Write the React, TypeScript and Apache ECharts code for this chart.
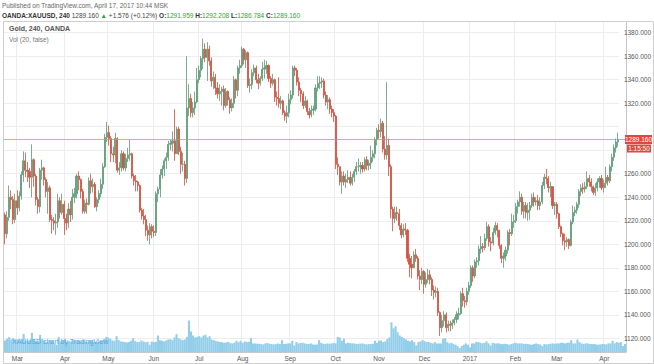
import React, { useEffect, useRef } from "react";
import * as echarts from "echarts";

const FONT = "'Liberation Sans', Arial, sans-serif";

// first trading day of the data (weekdays only)
const startDate = "2016-02-22";
const dayCount = 301;
const firstOpen = 1225;

const closeValues = [
  1209,1223,1240,1238,1221, 1237,1231,1241,1259,1271, 1263,1262,1257,1272,1258, 1238,1232,1263,1265,1255,
  1245,1248,1221,1220,1218, 1219,1237,1227,1234,1222, 1218,1230,1225,1240,1243, 1258,1255,1245,1228,1235,
  1234,1254,1249,1251,1232, 1238,1243,1251,1266,1291, 1295,1290,1277,1276,1290, 1263,1265,1277,1265,1273,
  1276,1277,1258,1254,1253, 1250,1229,1224,1221,1212, 1208,1215,1211,1210,1243, 1247,1259,1264,1271,1274,
  1285,1286,1288,1277,1298, 1279,1268,1268,1256,1316, 1324,1312,1316,1321,1340, 1348,1358,1366,1359,1366,
  1356,1339,1342,1333,1328, 1330,1332,1318,1330,1323, 1316,1320,1340,1331,1350, 1352,1366,1357,1363,1335,
  1336,1346,1350,1340,1337, 1341,1349,1350,1352,1341, 1337,1340,1325,1324,1320, 1322,1312,1309,1312,1323,
  1327,1350,1348,1338,1331, 1328,1318,1322,1313,1310, 1314,1315,1333,1337,1338, 1339,1327,1321,1323,1315,
  1312,1309,1268,1266,1253, 1258,1253,1255,1257,1252, 1257,1262,1266,1266,1267, 1264,1272,1267,1269,1274,
  1277,1289,1297,1296,1303, 1281,1276,1284,1266,1230, 1222,1227,1226,1216,1208, 1213,1212,1188,1183,1180,
  1191,1188,1173,1170,1177, 1166,1170,1174,1170,1161, 1159,1160,1142,1129,1135, 1140,1129,1132,1131,1133,
  1136,1140,1141,1158,1152, 1151,1160,1165,1180,1173, 1185,1186,1196,1198,1197, 1205,1215,1202,1201,1210,
  1216,1212,1199,1188,1190, 1195,1210,1209,1219,1220, 1232,1236,1240,1228,1233, 1227,1229,1233,1240,1236,
  1237,1233,1236,1250,1257, 1256,1248,1249,1233,1234, 1226,1215,1209,1203,1202, 1204,1199,1219,1227,1229,
  1234,1245,1248,1247,1249, 1256,1253,1249,1244,1248, 1253,1256,1248,1252,1257, 1254,1266,1274,1282,1287,
  1289.16,
];

const highValues = [
  1227,1228,1250,1246,1241, 1243,1246,1245,1262,1279, 1278,1270,1265,1285,1273, 1260,1240,1265,1272,1266,
  1257,1253,1250,1225,1223, 1226,1243,1240,1243,1237, 1226,1235,1237,1247,1248, 1260,1262,1256,1247,1238,
  1239,1257,1260,1256,1253, 1240,1246,1256,1269,1294, 1304,1301,1292,1283,1295, 1291,1270,1280,1279,1277,
  1282,1289,1278,1260,1259, 1254,1251,1231,1230,1225, 1216,1218,1217,1216,1245, 1249,1264,1267,1273,1278,
  1288,1289,1296,1315,1300, 1300,1283,1278,1271,1360, 1336,1328,1321,1330,1350, 1352,1360,1375,1371,1372,
  1369,1359,1347,1345,1338, 1336,1334,1335,1333,1331, 1325,1324,1343,1341,1352, 1357,1368,1367,1365,1364,
  1341,1349,1353,1352,1345, 1343,1355,1357,1356,1353, 1343,1345,1341,1330,1342, 1326,1323,1314,1318,1328,
  1331,1352,1352,1350,1342, 1333,1330,1326,1323,1316, 1318,1318,1336,1343,1343, 1342,1341,1330,1327,1325,
  1318,1315,1310,1274,1266, 1262,1262,1260,1263,1262, 1260,1264,1270,1273,1270, 1270,1274,1275,1272,1284,
  1280,1291,1299,1302,1307, 1305,1292,1338,1290,1268, 1232,1232,1232,1230,1218, 1217,1218,1213,1192,1190,
  1194,1196,1190,1178,1180, 1178,1176,1179,1178,1172, 1165,1164,1163,1143,1140, 1143,1142,1135,1135,1136,
  1138,1143,1146,1160,1163, 1156,1163,1168,1182,1182, 1187,1189,1199,1207,1201, 1209,1219,1217,1206,1214,
  1219,1218,1212,1200,1193, 1198,1212,1213,1226,1225, 1235,1238,1245,1243,1236, 1236,1235,1236,1243,1244,
  1240,1242,1240,1253,1260, 1264,1258,1253,1249,1236, 1236,1227,1216,1210,1209, 1206,1205,1221,1233,1232,
  1236,1247,1251,1252,1253, 1262,1259,1256,1250,1252, 1256,1258,1259,1255,1266, 1259,1268,1277,1285,1290,
  1295,
];

const lowValues = [
  1200,1205,1220,1230,1217, 1218,1225,1228,1238,1253, 1257,1253,1248,1240,1249, 1233,1226,1227,1255,1250,
  1240,1226,1219,1209,1212, 1208,1214,1222,1225,1208, 1212,1214,1219,1221,1235, 1239,1246,1239,1226,1226,
  1226,1233,1243,1244,1231, 1228,1235,1240,1247,1265, 1287,1284,1270,1270,1269, 1261,1259,1262,1263,1262,
  1270,1271,1256,1250,1245, 1245,1227,1221,1217,1207, 1203,1200,1205,1206,1207, 1236,1240,1256,1258,1264,
  1271,1280,1279,1271,1277, 1276,1260,1262,1250,1252, 1309,1308,1308,1310,1320, 1337,1342,1349,1355,1339,
  1352,1334,1332,1327,1324, 1322,1318,1314,1316,1318, 1311,1313,1316,1324,1326, 1345,1350,1353,1350,1333,
  1329,1332,1343,1337,1332, 1335,1339,1341,1345,1338, 1333,1335,1321,1318,1316, 1315,1310,1305,1303,1308,
  1319,1324,1343,1335,1326, 1321,1315,1316,1310,1307, 1308,1310,1313,1330,1332, 1333,1324,1318,1315,1311,
  1308,1304,1264,1259,1250, 1243,1250,1248,1252,1250, 1250,1253,1259,1262,1260, 1261,1262,1263,1263,1264,
  1270,1273,1284,1290,1291, 1278,1272,1272,1258,1222, 1211,1218,1220,1212,1205, 1206,1208,1185,1172,1171,
  1180,1185,1170,1161,1166, 1158,1163,1167,1166,1156, 1153,1155,1139,1122,1125, 1130,1125,1126,1126,1128,
  1131,1133,1136,1140,1147, 1146,1148,1157,1163,1168, 1171,1180,1182,1192,1193, 1195,1203,1198,1194,1199,
  1208,1206,1196,1184,1180, 1186,1192,1199,1207,1214, 1218,1226,1232,1225,1222, 1222,1220,1221,1231,1232,
  1233,1229,1229,1234,1247, 1251,1244,1240,1230,1225, 1222,1213,1206,1199,1195, 1198,1196,1198,1217,1224,
  1226,1231,1241,1243,1244, 1247,1249,1245,1242,1241, 1245,1248,1246,1244,1248, 1250,1252,1262,1271,1278,
  1283,
];

const volumeValues = [
  3.5,4.0,4.5,3.8,4.2, 3.6,3.8,3.4,3.9,5.5, 3.3,3.5,3.6,5.8,3.8, 3.2,3.4,5.2,4.0,3.5,
  3.0,3.2,3.6,3.3,2.4, 2.2,4.5,3.2,3.4,4.0, 3.0,3.3,3.1,3.6,3.4, 3.5,3.3,3.2,3.6,3.0,
  3.0,3.6,3.4,3.1,3.0, 3.0,3.2,3.3,4.0,4.6, 4.4,4.0,3.5,3.4,4.8, 3.6,3.2,3.1,3.0,2.9,
  3.0,3.4,4.2,3.3,3.0, 3.0,3.5,3.2,3.0,3.1, 2.2,3.2,3.0,3.1,5.0, 3.6,3.4,3.2,3.5,3.8,
  3.9,3.6,4.4,5.4,4.2, 3.8,3.6,3.8,4.6,9.5, 6.2,5.0,4.4,4.6,4.8, 4.4,5.0,5.2,4.4,4.8,
  3.8,3.6,3.3,3.2,3.0, 3.0,2.8,2.9,3.1,2.7, 2.6,2.8,3.4,3.0,3.4, 2.8,3.2,3.0,3.1,4.2,
  2.6,2.6,2.5,2.5,2.4, 2.3,2.6,2.7,2.5,2.4, 2.3,2.4,2.6,2.4,3.6, 2.4,2.5,2.6,2.6,3.4,
  2.0,3.0,2.6,2.7,2.8, 2.6,2.5,2.4,2.6,2.3, 2.2,2.3,3.6,2.8,2.5, 2.4,2.6,2.5,2.6,2.7,
  2.6,4.6,4.4,3.4,4.0, 2.6,2.8,2.7,2.6,2.6, 2.4,2.5,2.5,2.6,2.4, 2.3,2.4,2.4,2.5,3.4,
  2.8,3.4,3.5,3.0,3.2, 4.0,4.4,9.0,7.2,7.8, 6.0,5.0,4.6,4.2,3.8, 3.4,3.2,3.6,3.0,2.0,
  3.0,3.2,3.6,3.3,3.0, 3.0,2.8,2.6,3.0,2.6, 2.6,2.6,4.0,4.2,3.0, 2.6,2.8,2.4,2.2,1.8,
  1.2,1.8,2.2,2.6,2.2, 1.4,2.6,2.6,3.0,3.0, 2.8,2.6,2.8,3.2,2.6, 2.0,2.8,2.6,2.6,2.6,
  2.4,2.4,2.5,2.4,2.2, 2.4,2.6,2.8,2.6,2.6, 2.6,2.4,2.5,2.4,2.3, 2.2,2.4,2.6,2.4,2.3,
  1.8,2.4,2.3,2.4,2.5, 2.6,2.5,2.6,2.6,2.8, 2.8,2.6,2.8,2.8,3.6, 2.6,2.6,3.8,3.0,2.6,
  2.4,2.6,2.6,2.4,2.4, 2.4,2.3,2.2,2.3,2.4, 2.4,2.3,2.6,2.6,3.4, 2.6,3.0,2.8,3.0,1.8,
  2.4,
];

const monthNames = ["Jan","Feb","Mar","Apr","May","Jun","Jul","Aug","Sep","Oct","Nov","Dec"];
const priceMin = 1100;
const priceMax = 1400;
const priceStep = 20;
const countdownText = "1:15:50";

const headerLine1 = "Published on TradingView.com, April 17, 2017 10:44 MSK";
const symbolText = "OANDA:XAUUSD, 240";
const lastText = "1289.160";
const changeText = "+1.576 (+0.12%)";
const ohlcLabels = ["O:", "H:", "L:", "C:"];
const ohlcValues = ["1291.959", "1292.208", "1286.784", "1289.160"];

function buildDates(start: string, n: number): string[] {
  const out: string[] = [];
  const d = new Date(start + "T00:00:00Z");
  while (out.length < n) {
    const wd = d.getUTCDay();
    if (wd !== 0 && wd !== 6) out.push(d.toISOString().slice(0, 10));
    d.setUTCDate(d.getUTCDate() + 1);
  }
  return out;
}

export default function App() {
  const ref = useRef<HTMLDivElement>(null);

  useEffect(() => {
    if (!ref.current) return;
    const chart = echarts.init(ref.current, undefined, { renderer: "svg" });
    const dates = buildDates(startDate, dayCount);
    const candles = closeValues.map((c, i) => [
      i === 0 ? firstOpen : closeValues[i - 1],
      c,
      lowValues[i],
      highValues[i],
    ]);
    const lastClose = closeValues[closeValues.length - 1];
    const isMonthStart = (i: number) =>
      i > 0 && dates[i] && dates[i - 1] && dates[i].slice(5, 7) !== dates[i - 1].slice(5, 7);
    const monthLabel = (v: string) => {
      const m = parseInt(v.slice(5, 7), 10);
      return m === 1 ? v.slice(0, 4) : monthNames[m - 1];
    };

    const richHeader: string[] = [];
    richHeader.push(`{k|${symbolText}} {d|${lastText}} {g|▲} {d|${changeText}} `);
    ohlcLabels.forEach((l, i) => richHeader.push(`{k|${l}}{g|${ohlcValues[i]}} `));

    const option: any = {
      animation: false,
      backgroundColor: "#ffffff",
      textStyle: { fontFamily: FONT },
      grid: [
        { left: 4, right: 28, top: 9.2, bottom: 2.2 },
        { left: 4, right: 28, top: 22, bottom: 12 },
      ],
      xAxis: [
        { type: "category", gridIndex: 0, data: dates, show: false },
        {
          type: "category",
          gridIndex: 1,
          data: dates,
          axisLine: { show: true, lineStyle: { color: "#c8c8c8" } },
          axisTick: { show: false },
          axisLabel: {
            interval: (i: number) => isMonthStart(i),
            formatter: monthLabel,
            color: "#555",
            fontSize: 6.5,
            margin: 3,
            fontFamily: FONT,
          },
          splitLine: {
            show: true,
            interval: (i: number) => isMonthStart(i),
            lineStyle: { color: "#ededed", width: 1 },
          },
        },
      ],
      yAxis: [
        {
          type: "value",
          gridIndex: 0,
          position: "right",
          min: priceMin,
          max: priceMax,
          interval: priceStep,
          axisLine: { show: false },
          axisTick: { show: false },
          axisLabel: {
            showMinLabel: false,
            showMaxLabel: false,
            // the tick hidden behind the last-price badge is not shown
            formatter: (v: number) => (Math.abs(v - lastClose) < 12 ? "" : v.toFixed(3)),
            color: "#555",
            fontSize: 6.5,
            margin: 5,
            fontFamily: FONT,
          },
          splitLine: {
            show: true,
            showMinLine: false,
            showMaxLine: false,
            lineStyle: { color: "#ededed", width: 1 },
          },
        },
        {
          type: "value",
          gridIndex: 1,
          position: "right",
          min: 0,
          max: 100,
          axisLabel: { show: false },
          axisTick: { show: false },
          splitLine: { show: false },
          axisLine: { show: true, lineStyle: { color: "#c8c8c8" } },
        },
      ],
      series: [
        {
          type: "bar",
          xAxisIndex: 1,
          yAxisIndex: 1,
          data: volumeValues,
          barWidth: "100%",
          barCategoryGap: "0%",
          itemStyle: { color: "#92cdea" },
          silent: true,
          z: 1,
        },
        {
          type: "candlestick",
          xAxisIndex: 0,
          yAxisIndex: 0,
          data: candles,
          barWidth: 1.6,
          itemStyle: {
            color: "#6ba583",
            color0: "#d75442",
            borderColor: "#5c9874",
            borderColor0: "#cf4f3e",
            borderWidth: 0.8,
          },
          z: 3,
        },
      ],
    };

    chart.setOption(option);

    // last-price line and badges, placed through the price axis scale
    const yRaw = chart.convertToPixel({ yAxisIndex: 0 }, lastClose) as number;
    const y = Math.round(yRaw) + 0.5;
    const plotRight = 626;
    chart.setOption({
      graphic: [
        {
          id: "frame",
          type: "rect",
          shape: { x: 3.5, y: 21.5, width: 650, height: 342 },
          style: { fill: "none", stroke: "#cfcfcf", lineWidth: 1 },
          silent: true,
          z: 0,
        },
        {
          id: "h1",
          type: "text",
          x: 2,
          y: 2,
          style: { text: headerLine1, fontSize: 6.5, fill: "#666", fontFamily: FONT },
        },
        {
          id: "h2",
          type: "text",
          x: 2,
          y: 11.5,
          style: {
            text: richHeader.join(""),
            fontSize: 6.5,
            fontFamily: FONT,
            rich: {
              k: { fontWeight: "bold", fill: "#333", fontSize: 6.5, fontFamily: FONT },
              d: { fill: "#444", fontSize: 6.5, fontFamily: FONT },
              g: { fill: "#2fa336", fontSize: 6.5, fontFamily: FONT },
            },
          },
        },
        {
          id: "leg1",
          type: "text",
          x: 9,
          y: 25,
          style: { text: "Gold, 240, OANDA", fontSize: 7, fontWeight: "bold", fill: "#555", fontFamily: FONT },
        },
        {
          id: "leg2",
          type: "text",
          x: 9,
          y: 36,
          style: { text: "Vol (20, false)", fontSize: 6.5, fill: "#777", fontFamily: FONT },
        },
        {
          id: "wm",
          type: "text",
          x: 12,
          y: 338,
          style: { text: "XAUUSD chart by TradingView", fontSize: 7, fill: "#4aa6e0", fontFamily: FONT },
          z: 10,
        },
        {
          id: "pline",
          type: "line",
          shape: { x1: 4, y1: y, x2: plotRight, y2: y },
          style: { stroke: "#ec7d75", lineWidth: 1, opacity: 0.75 },
          silent: true,
          z: 5,
        },
        {
          id: "pbox",
          type: "rect",
          shape: { x: 625, y: y - 4.5, width: 27, height: 9 },
          style: { fill: "#e0473d" },
          z: 20,
        },
        {
          id: "ptext",
          type: "text",
          x: 638.5,
          y: y,
          style: {
            text: lastClose.toFixed(3),
            fontSize: 6.5,
            fill: "#fff",
            fontFamily: FONT,
            align: "center",
            verticalAlign: "middle",
          },
          z: 21,
        },
        {
          id: "cbox",
          type: "rect",
          shape: { x: 627, y: y + 5, width: 24, height: 8 },
          style: { fill: "#e0473d" },
          z: 20,
        },
        {
          id: "ctext",
          type: "text",
          x: 639,
          y: y + 9,
          style: {
            text: countdownText,
            fontSize: 6.5,
            fill: "#fff",
            fontFamily: FONT,
            align: "center",
            verticalAlign: "middle",
          },
          z: 21,
        },
      ],
    });

    return () => chart.dispose();
  }, []);

  return (
    <div
      ref={ref}
      style={{ position: "fixed", left: 0, top: 0, width: 654, height: 364, background: "#fff" }}
    />
  );
}
